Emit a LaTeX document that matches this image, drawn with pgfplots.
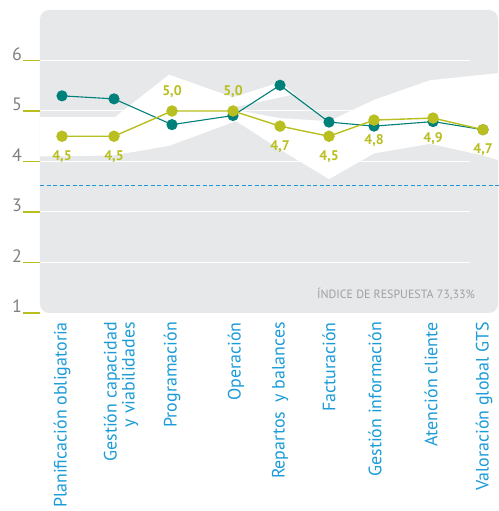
\documentclass[border=0pt]{standalone}
\usepackage{pgfplots}
\pgfplotsset{compat=1.18}
\usepackage{fontspec}
\setmainfont{PT Sans}
\definecolor{panel}{HTML}{E6E8EA}
\definecolor{teal}{HTML}{00807A}
\definecolor{olive}{HTML}{B8BF1E}
\definecolor{catblue}{HTML}{1B9BD7}
\definecolor{tickgray}{HTML}{7F7F7F}
\definecolor{idxgray}{HTML}{A0A0A0}
\definecolor{refline}{HTML}{1E96DC}
\begin{document}
\begin{tikzpicture}
\begin{axis}[
  name=ax,
  scale only axis,
  width=458bp, height=303bp,
  xmin=40, xmax=498, ymin=1, ymax=7,
  clip=false,
  axis line style={draw=none},
  axis background/.style={fill=panel, rounded corners=9bp},
  ytick={1,2,3,4,5,6},
  ytick pos=left,
  tick align=outside,
  major tick length=17bp,
  ytick style={draw=olive, line width=1.2bp},
  yticklabel style={font=\fontsize{18}{18}\selectfont, text=tickgray, anchor=base east, inner sep=0pt, xshift=-1bp},
  /pgf/number format/assume math mode=true,
  xtick={62,121,172,236,280,329,375,431,484},
  xticklabels={Planificación obligatoria, {Gestión capacidad\\y viabilidades}, Programación, Operación, {Repartos\ \ y balances}, Facturación, Gestión información, Atención cliente, Valoración global GTS},
  x tick style={draw=none},
  xticklabel style={font=\fontsize{18}{18}\selectfont, text=catblue, rotate=90, anchor=east, align=right, inner xsep=0pt},
  xticklabel shift=-8bp,
]
% white band
\addplot[fill=white, draw=none] coordinates {
  (40,4.88) (62,4.88) (115,4.88) (169,5.72) (233,5.27) (280,5.57) (329,4.80) (374,5.22) (430,5.61) (498,5.75)
  (498,4.03) (483,4.12) (430,4.35) (374,4.16) (329,3.65) (280,4.24) (236,4.80) (169,4.31) (113,4.12) (62,4.10) (40,4.10)
} --cycle;
% gray notch
\addplot[fill=panel, draw=none] coordinates {(228,5.05) (295,5.33) (329,4.80) (280,4.86)} --cycle;
% grid lines
\foreach \yy in {2,3,4,5,6} {
  \edef\tmp{\noexpand\draw[white, line width=1bp] (axis cs:40,\yy) -- (axis cs:470,\yy);}
  \tmp
}
% reference dashed line drawn as short solid dashes
\foreach \i in {0,...,70} {
  \pgfmathsetmacro\xa{40+6.5*\i}
  \pgfmathsetmacro\xb{\xa+4}
  \edef\tmp{\noexpand\draw[refline, line width=1.2bp] (axis cs:\xa,3.52) -- (axis cs:\xb,3.52);}
  \tmp
}
% teal series
\addplot[teal, line width=1.1bp, mark=*, mark size=5bp, mark options={fill=teal, draw=teal}] coordinates {
  (62,5.30) (114,5.24) (172,4.73) (233,4.91) (280,5.51) (329,4.78) (374,4.70) (433,4.79) (483,4.63)
};
% olive series
\addplot[olive, line width=1.4bp, mark=*, mark size=5bp, mark options={fill=olive, draw=olive}] coordinates {
  (62,4.50) (114,4.50) (172,5.00) (233,5.00) (280,4.70) (329,4.50) (374,4.82) (433,4.86) (483,4.63)
};
% labels below
\addplot[draw=none, mark=none, nodes near coords, point meta=explicit symbolic,
  every node near coord/.style={font=\fontsize{14}{14}\selectfont\bfseries, text=olive, anchor=center, yshift=-20bp}]
  coordinates {(62,4.50)[4,5] (114,4.50)[4,5] (280,4.70)[4,7] (329,4.50)[4,5] (374,4.82)[4,8] (433,4.86)[4,9] (483,4.63)[4,7]};
% labels above
\addplot[draw=none, mark=none, nodes near coords, point meta=explicit symbolic,
  every node near coord/.style={font=\fontsize{14}{14}\selectfont\bfseries, text=olive, anchor=center, yshift=19bp}]
  coordinates {(172,5.00)[5,0] (233,5.00)[5,0]};
\node[anchor=base east, inner sep=0pt, font=\fontsize{12}{12}\selectfont, text=idxgray] at (axis cs:475,1.29) {ÍNDICE DE RESPUESTA 73,33\%};
\end{axis}
\pgfresetboundingbox
\path[use as bounding box] ([xshift=-40bp,yshift=-198bp]ax.south west) rectangle ([yshift=10bp]ax.north east);
\end{tikzpicture}
\end{document}
